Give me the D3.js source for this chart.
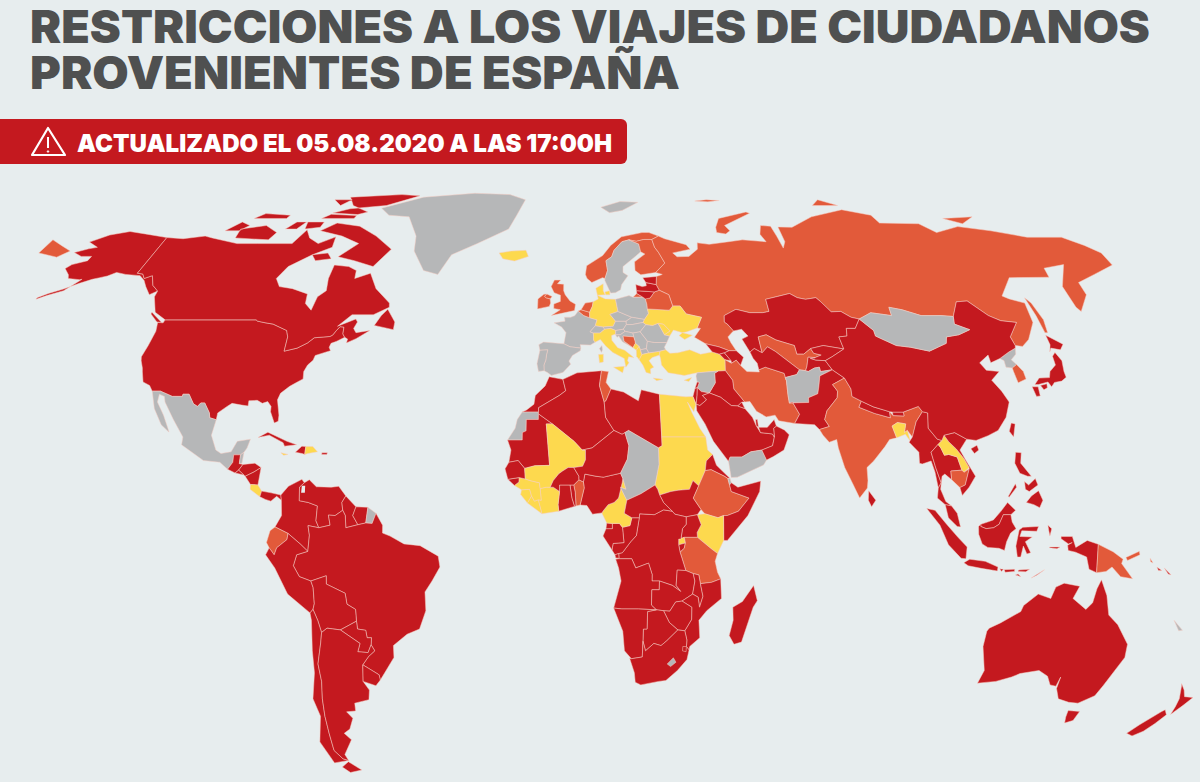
<!DOCTYPE html>
<html><head><meta charset="utf-8">
<script src="https://cdn.jsdelivr.net/npm/d3@7"></script>
<style>
html,body{margin:0;padding:0;background:#e7edee;overflow:hidden}
svg{display:block}
text{font-family:Inter,"Open Sans",sans-serif}
</style></head><body><svg id="c" width="1200" height="782"></svg>
<script>
const titleLines = ["RESTRICCIONES A LOS VIAJES DE CIUDADANOS","PROVENIENTES DE ESPAÑA"];
const bannerText = "ACTUALIZADO EL 05.08.2020 A LAS 17:00H";

// status of each country
const statusRed = ["USA","Alaska","Canada","Guatemala","Honduras","ElSalvador","Nicaragua","Panama","Cuba","Haiti","PuertoRico","Colombia","Venezuela","Guyana","Suriname","Brazil","Peru","Bolivia","Paraguay","Argentina","Chile","Uruguay","Estonia","Latvia","Lithuania","Georgia","Armenia","Azerbaijan","Iraq","Lebanon","Israel","Jordan","SaudiArabia","Oman","UAE","Qatar","Kuwait","Kazakhstan","Turkmenistan","Kyrgyzstan","Tajikistan","Pakistan","Nepal","Bhutan","SriLanka","Myanmar","Thailand","Vietnam","Malaysia","Indonesia","China","Japan","Taiwan","Philippines","Australia","NewZealand","Morocco","Mauritania","Algeria","Libya","SouthSudan","Eritrea","Somalia","Uganda","Burundi","DRC","Congo","Gabon","EqGuinea","Nigeria","Togo","Ghana","GuineaBissau","Senegal","BurkinaFaso","Niger","CAR","Angola","Zambia","Malawi","Mozambique","Zimbabwe","Botswana","Namibia","SouthAfrica","Eswatini","Madagascar","Solomon"];
const statusOrange = ["Russia","Norway","Finland","UK","Ireland","Belgium","Netherlands","Belarus","Bosnia","Iran","Uzbekistan","India","Cambodia","SouthKorea","PapuaNewGuinea","Ecuador","Tunisia","Benin","Ethiopia","Tanzania"];
const statusYellow = ["Iceland","Germany","Denmark","Italy","Ukraine","Moldova","Montenegro","Albania","Greece","Turkey","Cyprus","Bangladesh","Laos","CostaRica","Jamaica","DominicanRep","Egypt","Sudan","Mali","Guinea","SierraLeone","Liberia","IvoryCoast","Cameroon","Kenya","Rwanda"];
const statusGray = ["Greenland","Svalbard","Mexico","Belize","FrenchGuiana","Sweden","France","Spain","Portugal","Switzerland","Austria","Czechia","Poland","Slovakia","Hungary","Slovenia","Croatia","Serbia","NorthMacedonia","Bulgaria","Romania","Syria","Yemen","Afghanistan","Mongolia","NorthKorea","WesternSahara","Chad","Djibouti","Lesotho","NewCaledonia"];
const statusColors = {red:"#c4191f",orange:"#e25a3a",yellow:"#fdd94e",gray:"#b6b7b8"};

// Robinson-style projection table, tuned to the picture
const robLat = [0,5,10,15,20,25,30,35,40,45,50,55,60,65,70,75,80,85,90];
const robLen = [1,.9986,.9954,.99,.9822,.973,.96,.9427,.9216,.8962,.875,.85,.82,.79,.76,.72,.67,.62,.58];
const robY = [0,.062,.124,.186,.248,.31,.372,.434,.4958,.5571,.6176,.6769,.7346,.7903,.8435,.8936,.9394,.9761,1];

// country outlines: flat "lon lat lon lat ..." rings
const outlines = {
USA:["-124.7 48.4 -123 48.3 -122.8 49 -95.2 49 -94.6 48.7 -92 48.3 -89.6 48 -84.9 46.5 -84 45 -83.5 41.7 -80 42.4 -77.5 43.6 -76 44.8 -71.5 45.1 -70.8 45.4 -70 46.5 -69.2 47.4 -68 47.3 -67.8 45.7 -67 44.9 -69 44 -70.5 43.5 -70.7 42.6 -70 41.8 -71.5 41.4 -74 40.7 -74.2 39.6 -75.4 38.5 -76 37 -75.6 35.3 -77 34.6 -78.9 33.6 -81 32 -81.4 30.5 -80.2 27 -80.1 25.6 -81.1 25.2 -82.7 27.8 -82.8 29 -84 30.1 -85.4 29.7 -87 30.4 -89.3 30.3 -89.2 29.1 -91 29.3 -93.8 29.7 -95 29 -97.2 27.5 -97.2 25.95 -99.1 26.4 -99.5 27.5 -101.4 29.8 -102.5 29.8 -103.2 29 -104.5 29.6 -106.5 31.8 -108.2 31.8 -108.2 31.3 -111 31.3 -114.8 32.5 -117.1 32.5 -118.4 33.8 -120.6 34.6 -122 36.9 -122.5 37.8 -123.8 39.5 -124.3 40.4 -124.1 43 -124 46.3"],
Alaska:["-141 69.6 -148 70.4 -156.5 71.3 -162 70.3 -166.5 68.4 -162 67 -164.5 66.6 -168.1 65.6 -164.5 64.6 -161 64.6 -161 63.5 -165 62.5 -166 61.5 -163 59.9 -162 59 -158 58.7 -157.3 58.8 -160 56 -164 54.8 -166.5 53.9 -166.5 54.3 -164 55.3 -160.5 56.4 -157 57.8 -154 58.8 -152 59.2 -150 59.6 -148 60.5 -144.5 60 -139.5 59.7 -137 58.5 -135 57 -132 55 -130.2 55.9 -133 57.3 -135.5 59.7 -137.5 59 -139 60.1 -141 60.3"],
Canada:["-141 69.6 -135 69.3 -128 70 -125 69.5 -115 68 -108 68 -96 68 -94 71.8 -91 69.5 -87 68 -82 69.8 -81.5 67 -87 65 -93 62 -94.8 59 -92.5 57 -88 56.5 -82.5 55.2 -82 52.9 -79.5 51.3 -79 54.5 -77 56 -78 59 -78 62.4 -73 62 -70 61 -69.5 59 -65 60.3 -61.5 56.5 -56 53 -55.7 52 -60 50.2 -66.5 50.2 -70 47.5 -65 49.2 -64.3 48.5 -65 47 -64 46 -60 46.5 -63.5 44.6 -66 43.6 -66 44.5 -67 44.9 -67.8 45.7 -68 47.3 -69.2 47.4 -70 46.5 -70.8 45.4 -71.5 45.1 -76 44.8 -77.5 43.6 -80 42.4 -83.5 41.7 -84 45 -84.9 46.5 -89.6 48 -92 48.3 -94.6 48.7 -95.2 49 -122.8 49 -127 50.8 -130 54.5 -130.2 55.9 -133 57.3 -135.5 59.7 -137.5 59 -139 60.1 -141 60.3",
"-61 66.5 -65 62 -72 63.5 -78 64.5 -73 68 -80 70 -89 71.5 -85 73.7 -76 72.8 -68 70 -62 67","-105 69 -117 69.5 -118 72 -110 73 -104 71","-123 71.5 -120 74 -116 73 -118 71.5","-62 82.5 -70 83 -90 82 -85 79 -77 77 -80 76.2 -90 76.7 -85 78 -72 79","-80 75 -92 75 -90 76.3 -80 75.9","-105 75 -117 75 -115 76.5 -105 76","-90 79 -95 81 -88 81","-90 72.5 -95 72 -96 74 -90 74","-98 72 -102 72 -100 74 -96.5 74","-80 64 -85 63.5 -87 65 -82 65.5","-59 47.7 -53 46.7 -53 48.5 -56 51.5 -57.5 50","-125 48.5 -123.5 48.4 -128 50.8 -128 50.4"],
Greenland:["-73 78.2 -60 82 -40 83.5 -25 83 -18 81 -20 76 -22 72 -32 68 -40 65 -43 60 -48 61 -53 66 -54 70 -60 75.5 -68 76"],
Iceland:["-24 65.5 -22.5 64 -18.5 63.4 -14 64.6 -15 66.2 -20 66"],
Mexico:["-117.1 32.5 -114.8 32.5 -111 31.3 -108.2 31.3 -108.2 31.8 -106.5 31.8 -104.5 29.6 -103.2 29 -102.5 29.8 -101.4 29.8 -99.5 27.5 -99.1 26.4 -97.2 25.95 -97.8 22.4 -96 19 -94.5 18.2 -91.8 18.6 -90.5 21 -87 21.5 -87.6 19.5 -88.3 18.5 -89.15 17.9 -91 17.9 -91 16.2 -92.2 14.6 -94.5 16.2 -99 16.6 -105.5 20.2 -105.5 22 -109 26 -112.5 30 -113.2 31.3 -114.8 31.8 -114.6 30 -112 27 -110 24 -109.5 23.1 -112 24.8 -115 28.5"],
Guatemala:["-92.2 14.6 -91 16.2 -91 17.9 -89.15 17.9 -89.2 15.9 -88.2 15.7 -89.2 14.4 -90.1 13.75"],
Belize:["-88.3 18.5 -89.15 17.9 -89.2 15.9 -88.5 16"],
Honduras:["-88.2 15.7 -85 16 -83.2 15 -85 14 -87.3 13 -87.7 13.3 -89.2 14.4"],
ElSalvador:["-89.2 14.4 -87.7 13.3 -90.1 13.75"],
Nicaragua:["-83.2 15 -83.7 11 -85.7 11.1 -87.3 13 -85 14"],
CostaRica:["-83.7 11 -82.6 9.6 -83 8.3 -85.7 10 -85.7 11.1"],
Panama:["-82.6 9.6 -80 9.2 -77.4 8.7 -77.2 7.5 -78.5 8.4 -80 7.3 -81.5 7.7 -83 8.3"],
Cuba:["-85 21.9 -82.5 23.1 -77 21 -74.2 20.2 -77.5 19.9 -78 20.7 -82 22.4"],
Jamaica:["-78.3 18.4 -76.3 18 -77.5 17.8"],
Haiti:["-74.4 18.5 -72.8 19.9 -71.7 19.8 -71.8 18 -72.5 18.2"],
DominicanRep:["-71.7 19.8 -69.8 19.8 -68.4 18.6 -71 18.2 -71.8 18"],
PuertoRico:["-67.2 18.4 -65.7 18.4 -65.8 18 -67.2 18"],
Colombia:["-77.4 8.7 -75.5 10.7 -72 12.3 -71.3 11.5 -72.5 10.5 -72.4 7.4 -70 7 -67.5 6.2 -67.8 2.8 -67 1.2 -69.9 1.7 -69.5 -0.5 -70 -4.2 -72 -2.5 -75.2 -0.1 -78.7 1.4 -77 4 -77.2 7.5"],
Venezuela:["-71.3 11.5 -70 12.2 -68 10.6 -64 10.5 -62 10.7 -60 8.5 -61 7 -60.7 5.2 -62.7 4 -64.5 4.1 -64 1.8 -67 1.2 -67.8 2.8 -67.5 6.2 -70 7 -72.4 7.4 -72.5 10.5"],
Guyana:["-60 8.5 -57.2 6 -58 4 -56.6 1.9 -59.8 1.2 -60 4 -60.7 5.2 -61 7"],
Suriname:["-57.2 6 -54 5.9 -54.5 2.3 -56.6 1.9 -58 4"],
FrenchGuiana:["-54 5.9 -51.8 4.5 -52.8 2.2 -54.5 2.3"],
Brazil:["-51.8 4.5 -50 1.8 -50 0 -48 -0.7 -44.3 -2.5 -40 -2.9 -35.2 -5.3 -34.8 -7.8 -37 -11 -39 -13.5 -39 -17.8 -41 -22 -44.5 -23.2 -48.5 -25.8 -48.7 -28.5 -52 -32.2 -53.4 -33.7 -53.5 -32.5 -57.6 -30.2 -55.7 -28.3 -53.8 -27 -54.6 -25.6 -54.3 -24 -55.5 -24 -55.7 -22.3 -57.9 -22 -58 -20.2 -58 -17.5 -60.2 -16.3 -60.5 -13.8 -65.4 -11.7 -65.3 -9.8 -69.5 -11 -72.5 -10 -74 -7.5 -73 -5 -70 -4.2 -69.5 -0.5 -69.9 1.7 -67 1.2 -64 1.8 -64.5 4.1 -62.7 4 -60.7 5.2 -60 4 -59.8 1.2 -56.6 1.9 -54.5 2.3 -52.8 2.2"],
Ecuador:["-78.7 1.4 -75.2 -0.1 -75.5 -1.5 -78.3 -3.4 -79 -5 -80.3 -3.4 -81 -2.2 -80 0.5"],
Peru:["-75.2 -0.1 -72 -2.5 -70 -4.2 -73 -5 -74 -7.5 -72.5 -10 -69.5 -11 -69 -12.5 -69 -16.2 -69.5 -17.5 -70.4 -18.3 -76 -14 -79 -8 -81.3 -5 -80.3 -3.4 -79 -5 -78.3 -3.4 -75.5 -1.5"],
Bolivia:["-69.5 -11 -65.3 -9.8 -65.4 -11.7 -60.5 -13.8 -60.2 -16.3 -58 -17.5 -58 -20.2 -62.6 -22.2 -66.2 -21.8 -67.8 -22.8 -68.5 -20 -69.5 -17.5 -69 -16.2 -69 -12.5"],
Chile:["-70.4 -18.3 -69.5 -17.5 -68.5 -20 -67.8 -22.8 -68.3 -25 -70 -30 -70 -34 -71 -38 -71.7 -42 -72 -46 -71.9 -50 -70 -52 -68.4 -52.4 -73 -53 -75.5 -48 -73 -42 -73.7 -38 -71.5 -32 -71 -27 -70.2 -20"],
Paraguay:["-58 -20.2 -62.6 -22.2 -57.6 -25.3 -58.5 -27.2 -55.7 -27.4 -54.6 -25.6 -54.3 -24 -55.5 -24 -55.7 -22.3 -57.9 -22"],
Argentina:["-66.2 -21.8 -62.6 -22.2 -57.6 -25.3 -58.5 -27.2 -55.7 -27.4 -54.6 -25.6 -53.8 -27 -55.7 -28.3 -57.6 -30.2 -58.3 -34 -57 -36 -57.7 -38.2 -62 -39 -62.3 -40.8 -65 -41 -63.7 -42.5 -65.5 -45 -67.5 -46 -65.8 -47.5 -69 -51 -68.4 -52.4 -70 -52 -71.9 -50 -72 -46 -71.7 -42 -71 -38 -70 -34 -70 -30 -68.3 -25 -67.8 -22.8","-68.6 -52.7 -65.2 -54.7 -69 -55.3 -71 -54"],
Uruguay:["-57.6 -30.2 -53.5 -32.5 -53.4 -33.7 -54.9 -35 -58.3 -34"],
Norway:["7 58 10.5 59.2 11.3 59 12.3 61 12 63.5 14 64.5 15 66.2 18 68.5 20.5 69 23 68.6 25.7 69.1 28.5 69.1 31 70 28 71 25.5 71 18 69.8 14 67.5 11 64.8 5.5 62.2 5 60 5.5 59"],
Svalbard:["12 78.5 20 80.3 27 80 20 77.5 15 76.8"],
Sweden:["11.3 59 12.3 61 12 63.5 14 64.5 15 66.2 18 68.5 20.5 69 23.7 67.9 24 65.8 21.5 64.3 17.5 62 17.3 60.5 18.8 59.7 16.5 57.5 16 56.2 14.3 55.5 12.8 55.4 11.2 58.5"],
Finland:["20.5 69 23 68.6 25.7 69.1 28.5 69.1 29 67 30 65.7 31.5 62.9 28 60.5 23 59.9 21.3 61 21.5 63.2 25.3 65.2 24 65.8 23.7 67.9"],
Russia:["28 60.5 30 60 28 59.5 27.5 57.5 28.2 56.1 31 55 31.7 52.3 34 52.3 35.5 50.4 40 49.6 38.2 47.1 39.2 47 37.5 45.4 37 44.9 40 43.4 43.7 42.7 46.5 41.8 48.6 41.8 47.5 43.7 47 45 48.5 46.1 49 46.4 47.5 48 46.7 48.5 47 50 51 51.5 55 50.7 59 50.7 61 51 61 53.9 65 54.6 69 55.3 71 54.3 73.4 53.9 76.8 54.3 77.9 53.3 80 50.9 83 51 85.5 49.6 87.8 49.2 92 50.7 98 50 98.3 52 102 51.4 107 50 113 50 116.7 49.8 120 53.3 123.5 53.5 127.5 50 130.5 48.8 135 48.4 131 45 131 43 133 42.8 136 44.4 140 48.4 141 53 137 54 135.3 54.7 142 59.2 155 59.3 156 61.6 163.5 62.5 156.7 57 156 52 156.7 51 162 55 163 58 170.5 60 179.5 62.4 180 65.5 177 67.5 172 69.7 160 69.7 150 71.5 140 72.7 130 71 127 73.5 113 73.7 113 76 104.5 77.7 90 75.5 80 72.5 75 72.6 74.5 68.5 73 66.8 72.5 70 72.5 72.8 69 73 67 70.5 68 68.5 60 69 55 68.5 48 67.8 44 68.2 43.5 66.5 40 64.6 36 64.5 34.8 65.5 41 66.5 40 67.7 33 69.3 31 70 28.5 69.1 29 67 30 65.7 31.5 62.9",
"-180 65.5 -172.5 64.4 -170 66 -175 67.5 -180 69","19.7 54.4 22.8 54.4 21 55.3","52 71 55 70.6 57 71.5 56 73 68 76.6 67 77 55 75 52.5 72.5","95 79 105 79 100 81","138 75 150 75.5 143 73.5","50 80.5 55 81 60 80.7 55 80.2","142 54.3 143 53 143.6 49 142.8 46 142 46 142 50"],
UK:["-5.7 50 1.4 51.2 1.7 52.7 0 53.5 -1.5 55 -2 56 -2 57.6 -4 57.7 -3 58.6 -5 58.6 -6 57 -5 55.5 -3 54.9 -3 53.4 -5 52.8 -5 51.7 -3 51.4","-7.3 55.2 -5.6 54.6 -6.2 54 -7.4 54.2 -8 54.6"],
Ireland:["-8 54.6 -7.4 54.2 -6.2 54 -6 53 -6.4 52.2 -10 51.6 -10 54 -8.2 55.1 -7.3 55.2"],
France:["2.5 51.1 4.2 50 6 49.5 8.2 49 7.6 47.6 6 46.2 7 45.9 7 44.2 7.5 43.8 6 43.1 3 43.2 3.2 42.4 0 42.7 -1.8 43.4 -1.2 46 -2.5 47.3 -4.8 48.3 -1.5 48.7 -1.7 49.6 0.2 49.6 1.5 50","8.6 42.3 9.4 43 9.5 42 9.2 41.4"],
Spain:["-1.8 43.4 0 42.7 3.2 42.4 3 41.8 0.7 40.7 -0.3 39.4 0.2 38.7 -2 36.8 -5.3 36.1 -6.3 36.7 -7.4 37.2 -7.5 38.5 -7 39.6 -6.8 41 -6.5 42 -8.8 41.9 -9.2 43.2 -7.8 43.8"],
Portugal:["-8.8 41.9 -6.5 42 -6.8 41 -7 39.6 -7.5 38.5 -7.4 37.2 -9 37 -9.5 38.8"],
Belgium:["2.5 51.1 3.4 51.4 6 50.8 6 49.5 4.2 50"],
Netherlands:["3.4 51.4 4.7 53 7.2 53.3 6.9 52.2 6 50.8"],
Germany:["6 50.8 6.9 52.2 7.2 53.3 8.8 54 8.6 54.9 11 54 14.2 53.9 14.7 51 12.2 50.3 13.8 48.7 13 47.5 10 47.3 7.6 47.6 8.2 49 6 49.5"],
Denmark:["8.6 54.9 8.2 56.6 10.6 57.7 10.5 56 11 55","11 55.7 12.5 56 12.5 55 11.2 55"],
Switzerland:["7.6 47.6 10 47.3 10.4 46.8 9 45.9 7 45.9 6 46.2"],
Austria:["10 47.3 13 47.5 13.8 48.7 17 48.7 17 47.9 16 46.8 13.7 46.5 12.2 47 10.4 46.8"],
Italy:["7 45.9 9 45.9 10.4 46.8 12.2 47 13.7 46.5 13.6 45.7 12.4 45.3 12.4 44.2 14 42.5 16 41.9 18.5 40.2 17 40.4 16.6 39.5 17 39 16 38 15.7 40 12.5 41.4 10.5 42.9 9 44.4 7.5 43.8 7 44.2","12.5 38 15.6 38.2 15 36.7","8.3 40.9 9.7 41 9.6 39.2 8.5 39"],
Czechia:["12.2 50.3 14.7 51 18.8 49.6 17 48.7 13.8 48.7"],
Poland:["14.2 53.9 18.5 54.8 19.7 54.4 22.8 54.4 23.5 54 23.8 52.7 23.8 51.6 24 50.5 22.6 49.1 18.8 49.6 14.7 51"],
Slovakia:["18.8 49.6 22.6 49.1 22.1 48.4 18.8 47.9 17 47.9 17 48.7"],
Hungary:["17 47.9 18.8 47.9 22.1 48.4 22.9 47.9 21 46.2 18.8 45.9 16.5 46.3 16 46.8"],
Slovenia:["13.7 46.5 16 46.8 16.5 46.3 15 45.5 13.6 45.5"],
Croatia:["13.6 45.5 15 45.5 16.5 46.3 18.8 45.9 19 45 15.8 45.2 16 44 18.5 42.5 15.5 43.9 14.5 45.2 14 44.9"],
Bosnia:["15.8 45.2 19 45 19.3 44 19.3 43.5 18.5 42.5 16 44"],
Serbia:["18.8 45.9 21 46.2 22.5 44.5 22.9 44 22.4 42.3 20.6 42 20.3 42.8 19.3 43.5 19.3 44 19 45"],
Montenegro:["18.5 42.5 19.3 43.5 20.3 42.8 19.4 41.9"],
Albania:["19.4 41.9 20.3 42.8 20.6 42 20.9 40.9 20 39.7 19.3 40.5"],
NorthMacedonia:["20.6 42 22.4 42.3 23 41.3 20.9 40.9"],
Greece:["20 39.7 20.9 40.9 23 41.3 26.3 41.7 26 40.8 23.8 40.2 22.8 39.5 24 38 23 37.6 23 36.5 21.7 36.8 21 38.4","23.6 35.5 26.3 35.2 24.5 34.9"],
Bulgaria:["22.9 44 25 43.7 28.6 43.7 27.7 42.6 28 42 26.3 41.7 23 41.3 22.4 42.3"],
Romania:["21 46.2 22.9 47.9 24.9 47.7 26.6 48.2 28.2 45.5 29.7 45.2 28.6 43.7 25 43.7 22.9 44 22.5 44.5"],
Moldova:["26.6 48.2 28.2 48 30 46.4 28.2 45.5"],
Ukraine:["22.1 48.4 22.6 49.1 24 50.5 23.8 51.6 30.5 51.3 31.7 52.3 34 52.3 35.5 50.4 40 49.6 38.2 47.1 35 46.2 33.6 46 36.5 45.4 34 44.4 32.5 45.3 33.6 46 31 46.6 29.7 45.2 28.2 45.5 30 46.4 28.2 48 26.6 48.2 24.9 47.7 22.9 47.9"],
Belarus:["22.8 54.4 23.5 54 23.8 52.7 23.8 51.6 30.5 51.3 31.7 52.3 31 55 28.2 56.1 26.6 55.7 25 54.2"],
Lithuania:["21 56 26.6 55.7 25 54.2 23.5 54 22.8 54.4 21 55.3"],
Latvia:["21 56 21 57.5 23 57 24.3 57.2 24.3 58 27.5 57.5 28.2 56.1 26.6 55.7"],
Estonia:["24.3 58 23.5 59.2 28 59.5 27.5 57.5"],
Turkey:["26.3 41.7 28 42 29.1 41.2 31.4 41.3 35 42 38 41 41.5 41.5 43.5 41 44.8 39.7 44.4 37.2 42.3 37.1 36.2 36.7 35.5 36.6 32.5 36.1 30.5 36.4 28 36.7 26.3 38.5 26.2 40 26 40.8"],
Cyprus:["32.3 35 34.5 35.6 33.6 34.7"],
Georgia:["40 43.4 43.7 42.7 46.5 41.8 45 41.3 43.5 41 41.5 41.5"],
Armenia:["43.5 41 45 41.3 46.5 39.5 44.8 39.7"],
Azerbaijan:["46.5 41.8 48.6 41.8 50.3 40.3 49 38.4 48 39.6 46.5 38.9 46.5 39.5 45 41.3"],
Iran:["44.8 39.7 46.5 38.9 48 39.6 49 38.4 50.5 37 54 36.9 54 37.4 56 38 61 36.6 61.2 35 60.9 31.5 60.9 29.8 61.8 30 63.3 27.2 61.6 25.1 57.3 25.7 56.5 27 54 26.6 51.5 27.9 50 30.1 48.5 30 47.7 31 46 33 46 35 44.4 37.2"],
Iraq:["42.3 37.1 44.4 37.2 46 35 46 33 47.7 31 48.5 30 47.7 30 46.5 29.1 44.7 29.2 42 31.1 39 32.1 41 34.4 41.2 36.6"],
Syria:["36.2 36.7 42.3 37.1 41.2 36.6 41 34.4 39 32.1 36.8 32.4 35.8 33.3 36.5 34.5 35.9 34.6 35.8 36"],
Lebanon:["35.9 34.6 36.5 34.5 35.8 33.3 35.1 33.1"],
Israel:["35.1 33.1 35.8 33.3 35.5 31.5 35 29.5 34.3 31.3"],
Jordan:["35.8 33.3 36.8 32.4 39 32.1 37 31.5 38 30.5 36 29.2 35 29.5 35.5 31.5"],
SaudiArabia:["35 29.5 36 29.2 38 30.5 37 31.5 39 32.1 42 31.1 44.7 29.2 46.5 29.1 48.4 28.5 50.2 26.5 51 24.6 52 23 55.2 22.7 55.7 22 55 20 52 19 49 18.6 46.5 17.4 43.3 17.4 42.8 16.4 39 21 37 25 35 28"],
Yemen:["43.3 17.4 42.8 16.4 43.3 12.7 45 12.8 52.2 15.6 53.1 16.7 52 19 49 18.6 46.5 17.4"],
Oman:["52 19 53.1 16.7 55 17.5 58 19 59.8 22.5 58.6 23.6 56.5 24.5 55.7 24 55.7 22 55 20"],
UAE:["51.6 24.2 54 24.2 56.1 26 56.5 24.5 55.7 24 55.7 22 55.2 22.7 52 23"],
Qatar:["51 24.6 51.6 24.2 51.5 26 51 26"],
Kuwait:["47.7 30 48.4 28.5 46.5 29.1"],
Kazakhstan:["47 50 51 51.5 55 50.7 59 50.7 61 51 61 53.9 65 54.6 69 55.3 71 54.3 73.4 53.9 76.8 54.3 77.9 53.3 80 50.9 83 51 85.5 49.6 87.8 49.2 85.7 47 83 47 82.5 45.2 80 45 80.2 42.2 74.5 43 70.5 42.3 68 41 66 41 66 43 61 44.3 58.5 45.5 56 45 56 41.3 54 42.3 52.5 41.5 51 44.5 53 45.2 51.5 46.8 49 46.4 47.5 48 46.7 48.5"],
Uzbekistan:["56 45 58.5 45.5 61 44.3 66 43 66 41 68 41 70.5 42.3 71 41.2 73 40.8 71 40.2 69 40.3 68 38.2 67.3 37.2 65.6 37.4 62.5 39.7 60 41.6 58 42.7 56 41.3"],
Turkmenistan:["52.5 41.5 54 42.3 56 41.3 58 42.7 60 41.6 62.5 39.7 65.6 37.4 64.5 36.3 61 35.6 61.2 35 61 36.6 56 38 54 37.4 53.9 38.9 53 40"],
Kyrgyzstan:["70.5 42.3 74.5 43 80.2 42.2 76 40.4 73.7 39.5 71 39.6 69.5 40 71 40.2 73 40.8 71 41.2"],
Tajikistan:["69 40.3 71 40.2 69.5 40 71 39.6 73.7 39.5 75 37.4 71.5 37 71.5 38 70 37.8 68 37 67.3 37.2 68 38.2"],
Afghanistan:["61.2 35 61 35.6 64.5 36.3 65.6 37.4 67.3 37.2 68 37 70 37.8 71.5 38 71.5 37 75 37.4 71 36 70 33.5 69.3 31.9 66.5 31 66.3 29.9 60.9 29.8 60.9 31.5"],
Pakistan:["60.9 29.8 66.3 29.9 66.5 31 69.3 31.9 70 33.5 71 36 75 37.4 77.8 35.5 74 34 75 32.5 74.5 31 71 28 70 26 71 24.4 68.2 23.7 67 24.8 61.6 25.1 63.3 27.2 61.8 30"],
India:["77.8 35.5 78.9 33 78.7 31.3 81 30.2 80 28.8 84 27.4 88.1 26.4 88.2 27.8 89 26.9 92 26.8 92 27.7 96.5 29 97.3 27.8 95 25.5 93.3 22 92.2 23.5 91.3 23 92 25 89.8 25.3 88.2 24.5 89 21.8 87 21.4 85.5 19.8 82 16.5 80 15 80 12 79.7 10.3 77.5 8 76 11 74 15 72.8 19.5 72.6 21.4 70.5 20.8 69 22.4 68.2 23.7 71 24.4 70 26 71 28 74.5 31 75 32.5 74 34"],
Nepal:["80 28.8 81 30.2 84 28.9 88.2 27.8 88.1 26.4 84 27.4"],
Bhutan:["89 26.9 92 26.8 92 27.7 89 27.7"],
Bangladesh:["88.2 24.5 89.8 25.3 92 25 91.3 23 92.2 23.5 92.6 21 91.5 22.6 89 21.8"],
SriLanka:["80 9.7 81.8 7.5 80.6 6 79.8 7.5"],
Myanmar:["92.2 20.8 93.3 22 95 25.5 97.3 27.8 98.7 27.5 98 24 100 21.5 101.2 21.2 100 20.3 97.8 18.5 98.5 15 99.6 11.5 98.7 10.3 98.2 14 97.5 16.5 95 15.8 94.3 16 94.5 18.5"],
Thailand:["100 20.3 100.6 19.5 101.3 17.8 102.5 18 104.7 17.4 105.5 14.4 102.5 14.2 102.5 12.2 100.8 13.5 100 13 99.3 10 100.5 7.2 102 6.2 100.3 6.5 98.3 8 98.7 10.3 99.6 11.5 98.5 15 97.8 18.5"],
Laos:["100 20.3 101.2 21.2 102 22.4 103 20.9 104.8 19.2 106.5 17 107.5 15 106 13.9 105.5 14.4 104.7 17.4 102.5 18 101.3 17.8 100.6 19.5"],
Cambodia:["102.5 14.2 105.5 14.4 106 13.9 107.5 14.7 106 11 104.5 10.4 102.5 12.2"],
Vietnam:["102 22.4 105 23 108 21.5 105.7 19 107 16.5 109 13 107 10.5 105 8.6 104.5 10.4 106 11 107.5 14.7 107.5 15 106.5 17 104.8 19.2 103 20.9"],
Malaysia:["100.3 6.5 102 6.2 103.4 4.5 104.2 1.4 103.3 1.5 101 3.5","109.6 2 111.4 2.5 113 3 115 4.9 117 7 119 5.2 117.7 4.2 115.7 4.2 114.5 2 113 1.2 111 1 109.6 1.5"],
Indonesia:["109 1.5 109.6 2 109.6 1.5 111 1 113 1.2 114.5 2 115.7 4.2 117.7 4.2 118 2.5 119 1 117.5 0 116.5 -2 116 -4 114.5 -3.5 111.5 -3.3 110 -2.5 109 -0.3","95.3 5.6 97.5 5.2 100.5 2 103.5 -1 106 -3.2 105.8 -5.9 104.5 -5.8 101 -2.7 98.7 1.8","105.3 -6.8 106.8 -6 111 -6.5 114.5 -7.8 114.4 -8.7 110 -8.1 106.5 -7.5","115 -8.2 116 -8.3 115.5 -8.8","116.2 -8.4 119 -8.3 119 -8.8 116.5 -9","120 -8.5 123 -8.3 122 -8.9 120 -8.8","123.6 -10.3 127 -8.4 125 -9.7","119.3 -9.6 120.8 -10 120 -9.4","119.8 0.7 120.8 1.3 125 1.5 124.5 0.4 120.5 0.5 120 -0.8 123.3 -0.9 121.5 -2 123 -4.5 122 -4.8 121 -3 120.4 -5.5 119.5 -5.5 119 -3","127.5 1.8 128.5 1 128 -0.7 127.7 0.5","128 -3.2 130.8 -3.2 130 -3.6 128 -3.4","131 -0.8 134 -0.8 135 -3.3 138 -1.7 141 -2.6 141 -9.1 138.9 -8.3 138 -5.5 135 -4.4 133 -4 132.8 -2.8 134 -2.2 133 -2.5 131 -1.3"],
PapuaNewGuinea:["141 -2.6 145 -4.3 147.8 -6 147.5 -7 150.8 -10.5 147.5 -10 145 -7.8 143.5 -8.8 141 -9.1","148.5 -5.6 152 -4.2 152.2 -5 149 -6.3","155 -5.8 155.9 -6.9 155.2 -6.6"],
Solomon:["159 -8 161 -9.6 160.2 -9.4","157 -7.8 158.4 -8.6 157.5 -8.6"],
NewCaledonia:["164 -20 167 -22.3 166 -22.4"],
Australia:["114.2 -21.8 117 -20.6 122 -18 122.5 -16.6 126 -14 129.5 -15 130.5 -12.4 132.6 -11.5 136.9 -12.2 135.5 -15 139.5 -17.5 141 -16 141.6 -12.8 142.5 -10.7 144.5 -14.3 146 -18.8 149 -21 153 -25.5 153.5 -28.5 150.8 -35 150 -37.3 146.3 -39 143.5 -38.8 140 -38 138 -35.6 137.8 -33 137.5 -35.1 135.7 -34.8 134 -32.8 131 -31.5 126 -32.2 124 -33 120 -34 115 -34.4 115.7 -31.5 113.5 -26 113.7 -22.5","144.7 -40.7 148.2 -40.9 148 -43 146 -43.6 145.2 -42.2"],
NewZealand:["172.7 -34.5 174.5 -36 175.8 -37.5 178.4 -37.7 177 -39.5 175.3 -41.6 175 -39.8 174.7 -38 173 -35","172.7 -40.5 174.2 -41.7 172.8 -43.7 171 -45.5 168.5 -46.6 166.4 -46 168.5 -44 172 -41"],
Japan:["131 34 133 35.5 136 35.6 137 37 139.5 38.5 140 40.5 141.4 41.4 142 39.5 141 37 140.8 35.7 139 34.8 136.8 34.5 135.5 33.5 135 34.6 132 34","140 41.5 141.4 43.2 141.8 45.4 145.3 43.3 143.5 42 141 42.4","130 33.5 131.7 33.5 131.3 31.4 130.2 31.3","132.5 33.8 134.5 34.2 134.2 33.3 133 32.8"],
NorthKorea:["124.4 40 128 41.5 130.6 42.4 129.7 41 127.5 39.7 128.4 38.6 126.7 37.8 125 38 125.3 39.5"],
SouthKorea:["126.7 37.8 128.4 38.6 129.4 37 129.2 35.3 126.5 34.4 126.6 37"],
China:["73.7 39.5 75 37.4 77.8 35.5 78.9 33 78.7 31.3 81 30.2 84 28.9 88.2 27.8 89 27.7 92 27.7 96.5 29 97.3 27.8 98.7 27.5 98 24 100 21.5 101.2 21.2 102 22.4 105 23 108 21.5 110.5 21.2 114 22.3 117 23.5 120 26.5 122 30 121 32.5 119.3 35 122.5 37 119 37.3 118 39 121.5 40.8 121.2 39 124.4 40 128 41.5 130.6 42.4 131 43 131 45 135 48.4 130.5 48.8 127.5 50 123.5 53.5 120 53.3 116.7 49.8 116 48 119.9 46.7 116 45.5 112 45 111 43.5 105 41.7 100 42.6 96 43 91 45.2 91 46.5 87.8 49.2 85.7 47 83 47 82.5 45.2 80 45 80.2 42.2 76 40.4","108.7 19.3 110.5 20.1 110.8 19 109.5 18.2"],
Mongolia:["87.8 49.2 92 50.7 98 50 98.3 52 102 51.4 107 50 113 50 116.7 49.8 116 48 119.9 46.7 116 45.5 112 45 111 43.5 105 41.7 100 42.6 96 43 91 45.2 91 46.5"],
Taiwan:["121 25.2 122 25 120.9 22 120 23.3"],
Philippines:["120.7 18.5 122.2 18.4 121.6 16 124 13 123 13 121 13.7 120 16","122 7 123.5 8.5 125.5 9.7 126.5 7.5 125.5 5.8 124 6.5","122 11.8 123 11 125 12.5 125.5 11 123 9.5 122 10","117.3 8.4 119.5 11.3 119.7 10.5 117.5 8.2"],
Morocco:["-5.9 35.8 -2 35.2 -1.2 32.6 -3 31.5 -8.7 28.7 -8.7 27.7 -13.2 27.7 -12 28.2 -10 29.5 -9.7 31.5 -7 33.7"],
WesternSahara:["-13.2 27.7 -8.7 27.7 -8.7 26 -12 26 -12 23.4 -13 23 -13 21.3 -17 21.3 -15 24 -14.5 26"],
Mauritania:["-17 21.3 -13 21.3 -13 23 -12 23.4 -12 26 -8.7 26 -8.7 27.3 -4.8 25 -6.5 25 -5.5 15.5 -9.5 15.4 -12.2 14.8 -14 16.6 -16.5 16.2 -16 19"],
Algeria:["-2 35.2 2 36.7 9 37.2 8.3 33.8 9.5 30 9.8 26.5 12 23.5 6 19.5 3.3 19 1.1 21 -4.8 25 -8.7 27.3 -8.7 28.7 -3 31.5 -1.2 32.6"],
Tunisia:["9 37.2 11 37 10.2 34.5 11.5 33 10 30.3 9.5 30 8.3 33.8"],
Libya:["11.5 33 15 32.3 19 30.3 20 32.8 25 31.8 25 22 25 20 24 19.5 16 23.5 15 23 14.2 22.6 12 23.5 9.8 26.5 9.5 30 10 30.3"],
Egypt:["25 31.8 32.3 31.2 34.3 31.3 34.9 29.5 34.2 27.8 32.6 30 33.7 27.5 35.5 24 37 22 25 22"],
Sudan:["25 22 37 22 37.3 19 38.6 18 36.8 16.5 36.4 14.3 34.5 10.8 33 12 32 10 29 9.8 27 9.5 24 8.7 23.5 10 22.8 11 24 15.7 24 19.5 25 20"],
SouthSudan:["24 8.7 27 9.5 29 9.8 32 10 33 12 34.5 10.8 33 8 35 5.4 34 4.2 31 3.7 28 4.3 27.3 5 25 7"],
Eritrea:["36.4 14.3 36.8 16.5 38.6 18 39.5 15.5 43 12.5 42.4 12.5 41.5 13 38 14.5"],
Ethiopia:["34.5 10.8 36.4 14.3 38 14.5 41.5 13 42.4 12.5 42.8 11 43.2 9.5 47.9 8 45 5 42 4 41 4 39.5 3.5 36 4.4 35 5.4 33 8"],
Djibouti:["42.4 12.5 43 12.5 43.3 11.5 42.8 11"],
Somalia:["42.8 11 43.3 11.5 45 10.5 51.2 11.9 50.8 9.5 47.5 4 42 -1.7 41 -1.7 41 4 42 4 45 5 47.9 8 43.2 9.5"],
Kenya:["41 4 41 -1.7 39.4 -4.7 37.7 -3.6 34 -1 33.9 0.1 35 1.9 34 4.2 36 4.4 39.5 3.5"],
Uganda:["31 3.7 34 4.2 35 1.9 33.9 0.1 34 -1 30.5 -1 29.6 -1.4 30 1 31 2"],
Rwanda:["29 -1.4 30.5 -1 30.8 -2.3 29 -2.7"],
Burundi:["29 -2.7 30.8 -2.3 30.5 -3.5 29.4 -4.4"],
Tanzania:["30.5 -1 34 -1 37.7 -3.6 39.4 -4.7 38.8 -6.5 39.5 -9 40.4 -10.5 38 -11.3 35 -11.6 34.5 -9.6 33 -9.3 31 -8.6 29.4 -4.4 30.5 -3.5 30.8 -2.3"],
DRC:["12.2 -6 13.1 -5.8 13 -4.7 14 -4.5 16.2 -2 17.7 -0.6 18.5 3.5 18.6 4.4 22.5 4.2 25 5.3 27.3 5 28 4.3 31 3.7 31 2 30 1 29.6 -1.4 29 -1.4 29 -2.7 29.4 -4.4 31 -8.6 28.7 -8.5 28.5 -12 29.8 -13.4 27.5 -12 24 -11 22 -11 22 -9.5 21 -6.9 17.6 -8 16.5 -5.9 13 -5.9"],
Congo:["11.2 -3.9 12 -5 13 -4.7 14 -4.5 16.2 -2 17.7 -0.6 18.5 3.5 16.5 3.5 16 1.7 14 1.3 14.4 -2.2 11.5 -2.4"],
Gabon:["9.6 1 11.3 1 11.3 2.2 13.2 2.2 14 1.3 14.4 -2.2 11.5 -2.4 11.2 -3.9 8.8 -0.7"],
EqGuinea:["9.6 1 9.8 2.3 11.3 2.2 11.3 1"],
Cameroon:["8.5 4.6 9.8 2.3 11.3 2.2 13.2 2.2 14 1.3 16 1.7 16.5 3.5 14.5 4.5 15.2 7.5 13.5 10.5 15 10 14.2 12.5 14 11.5 13 8 11.8 7 10.2 6.5 8.8 5"],
Nigeria:["2.7 6.4 3.8 10.3 3.6 11.7 4 13.5 7 13 9 12.8 13.6 13.7 14.2 12.5 14 11.5 13 8 11.8 7 10.2 6.5 8.8 5 8.5 4.6 6 4.3 4.5 6.3"],
Benin:["1.6 6.2 2.7 6.4 3.8 10.3 3.6 11.7 2.4 12.2 1 11 1.4 9.3"],
Togo:["1.2 6.1 1.6 6.2 1.4 9.3 1 11 0 11 0.5 8"],
Ghana:["-3 5 1.2 6.1 0.5 8 0 11 -2.8 11 -2.8 9.5 -3.2 6.5"],
IvoryCoast:["-7.5 4.4 -3 5 -3.2 6.5 -2.8 9.5 -4.5 10.5 -6.3 10.5 -8 10.2 -7.7 7.5 -8.5 7.6"],
Liberia:["-11.4 6.9 -7.5 4.4 -8.5 7.6 -9.5 7.3 -10.3 8.5"],
SierraLeone:["-13.2 8.8 -11.4 6.9 -10.3 8.5 -10.8 10 -13 9.9"],
Guinea:["-14.9 10.9 -13 9.9 -10.8 10 -10.3 8.5 -9.5 7.3 -8.5 7.6 -7.7 7.5 -8 10.2 -8.2 11.5 -10.7 12 -12 12.4 -13.7 12.7 -13.7 11.7"],
GuineaBissau:["-16.7 12.3 -13.7 12.7 -13.7 11.7 -14.9 10.9"],
Senegal:["-17.5 14.7 -16.5 16.2 -14 16.6 -12.2 14.8 -12 12.4 -13.7 12.7 -16.7 12.3"],
Mali:["-12.2 14.8 -9.5 15.4 -5.5 15.5 -6.5 25 -4.8 25 1.1 21 3.3 19 4.2 19 4.2 16.8 3.4 15.3 1 15 -0.5 15 -2 14.2 -3 13.6 -4.5 12 -5.3 10.5 -6.3 10.5 -8 10.2 -8.2 11.5 -10.7 12 -12 12.4"],
BurkinaFaso:["-5.3 10.5 -4.5 12 -3 13.6 -2 14.2 -0.5 15 1 15 2.4 13 2.4 12.2 1 11 0 11 -2.8 11 -2.8 9.5 -4.5 10.5"],
Niger:["4.2 19 3.3 19 6 19.5 12 23.5 14.2 22.6 15 23 16 20 15.5 16.9 13.6 13.7 9 12.8 7 13 4 13.5 3.6 11.7 2.4 12.2 2.4 13 1 15 3.4 15.3 4.2 16.8"],
Chad:["15 23 16 23.5 24 19.5 24 15.7 22.8 11 19 9 15.2 7.5 13.5 10.5 15 10 14.2 12.5 13.6 13.7 15.5 16.9 16 20"],
CAR:["14.5 4.5 15.2 7.5 19 9 22.8 11 23.5 10 24 8.7 25 7 27.3 5 25 5.3 22.5 4.2 18.6 4.4 18.5 3.5 16.5 3.5"],
Angola:["12.2 -6 13 -5.9 16.5 -5.9 17.6 -8 21 -6.9 22 -9.5 22 -11 24 -11 24 -13 22 -13 22 -16.5 23.4 -17.6 18.5 -17.4 14 -17.4 11.8 -17.2 13.7 -11 13 -8","12 -5 13 -4.7 13.1 -5.8 12.2 -5.7"],
Zambia:["22 -13 24 -13 24 -11 27.5 -12 29.8 -13.4 28.5 -12 28.7 -8.5 31 -8.6 33 -9.3 33.5 -11 33 -14 30.2 -15.6 28.5 -15.8 27 -17.9 25.3 -17.8 23.4 -17.6 22 -16.5"],
Malawi:["33 -9.3 34.5 -9.6 35 -11.6 35.8 -14.5 35 -17 34.5 -14.7 33 -14 33.5 -11"],
Mozambique:["35 -11.6 38 -11.3 40.4 -10.5 40.8 -15 37 -17.8 35 -20 35.5 -24 32.9 -26 32.8 -26.8 32 -26 32 -24.5 31.3 -22.4 33 -19.8 32.9 -17 30.2 -15.6 33 -14 34.5 -14.7 35 -17 35.8 -14.5"],
Zimbabwe:["25.3 -17.8 27 -17.9 28.5 -15.8 30.2 -15.6 32.9 -17 33 -19.8 31.3 -22.4 29.4 -22.2 27 -20.5"],
Botswana:["21 -18 23.4 -17.6 25.3 -17.8 27 -20.5 29.4 -22.2 26.5 -24.7 25 -25.8 23 -25.3 20.8 -27 20 -24.8 20 -22 21 -22"],
Namibia:["11.8 -17.2 14 -17.4 18.5 -17.4 23.4 -17.6 21 -18 21 -22 20 -22 20 -28.4 17 -28.8 15 -27 14.4 -22.5"],
SouthAfrica:["16.5 -28.7 17 -28.8 20 -28.4 20 -24.8 20.8 -27 23 -25.3 25 -25.8 26.5 -24.7 29.4 -22.2 31.3 -22.4 32 -24.5 32 -26 32.8 -26.8 32.4 -29 30 -31.5 27 -33.8 25 -34 20 -34.8 18.4 -34.2 18 -32"],
Lesotho:["27 -30 28.6 -28.6 29.4 -29.6 28 -30.6"],
Eswatini:["31 -26 32 -26 32 -27.2 31 -27"],
Madagascar:["49.3 -12 50.5 -15.5 49.5 -17 47 -25 45 -25.5 43.5 -23.5 44.3 -20 44 -17 46.5 -15.7"]
};
const waterRings = ["-71.9 10.8 -71 10.8 -71 9.2 -72 9.2"];

const W = 1200, H = 782;
const mapX0 = 570, mapY0 = 533, pxPerDeg = 3.75, yUnit = 352;
const lenScale = d3.scaleLinear().domain(robLat).range(robLen);
const yScale = d3.scaleLinear().domain(robLat).range(robY);
const projection = d3.geoTransform({point(lon, lat){
  const a = Math.abs(lat);
  this.stream.point(mapX0 + lon*pxPerDeg*lenScale(a), mapY0 - Math.sign(lat)*yUnit*yScale(a));
}});
const path = d3.geoPath(projection);

function parseRing(s){
  const n = s.trim().split(/\s+/).map(Number), r = [];
  for(let i=0;i<n.length;i+=2) r.push([n[i],n[i+1]]);
  r.push(r[0]);
  return r;
}
const statusOf = new Map();
[["red",statusRed],["orange",statusOrange],["yellow",statusYellow],["gray",statusGray]].forEach(([k,l])=>l.forEach(c=>statusOf.set(c,k)));
const features = Object.entries(outlines).map(([name,rings])=>({
  type:"Feature",properties:{name,status:statusOf.get(name)},
  geometry:{type:"MultiPolygon",coordinates:rings.map(r=>[parseRing(r)])}
}));

const svg = d3.select("#c");
svg.append("rect").attr("width",W).attr("height",H).attr("fill","#e7edee");

svg.append("g").selectAll("path").data(features).join("path")
  .attr("d",path)
  .attr("fill",d=>statusColors[d.properties.status])
  .attr("stroke","#f6cfc4").attr("stroke-width",.5).attr("stroke-linejoin","round");
svg.append("g").selectAll("path").data(waterRings).join("path")
  .attr("d",r=>path({type:"Polygon",coordinates:[parseRing(r)]}))
  .attr("fill","#e7edee");

const t = svg.append("g").attr("fill","#4f5050").attr("font-weight",900).attr("font-size",45);
t.selectAll("text").data(titleLines).join("text")
  .attr("x",30).attr("y",(d,i)=>43+i*46).text(d=>d)
  .attr("textLength",(d,i)=>i?650:1120).attr("lengthAdjust","spacingAndGlyphs");

svg.append("rect").attr("x",-10).attr("y",119).attr("width",637).attr("height",45).attr("rx",6).attr("fill","#c4191f");
const icon = svg.append("g").attr("fill","none").attr("stroke","#fff");
icon.append("path").attr("d","M48 128 L65 155 L32 155 Z").attr("stroke-width",2.2).attr("stroke-linejoin","round");
icon.append("path").attr("d","M48 137 L48 148").attr("stroke-width",2);
icon.append("circle").attr("cx",48).attr("cy",151.5).attr("r",.8).attr("fill","#fff").attr("stroke-width",.8);
svg.append("text").attr("x",77).attr("y",152).attr("fill","#fff").attr("font-weight",900).attr("font-size",25)
  .attr("textLength",535).attr("lengthAdjust","spacingAndGlyphs").text(bannerText);
</script></body></html>
